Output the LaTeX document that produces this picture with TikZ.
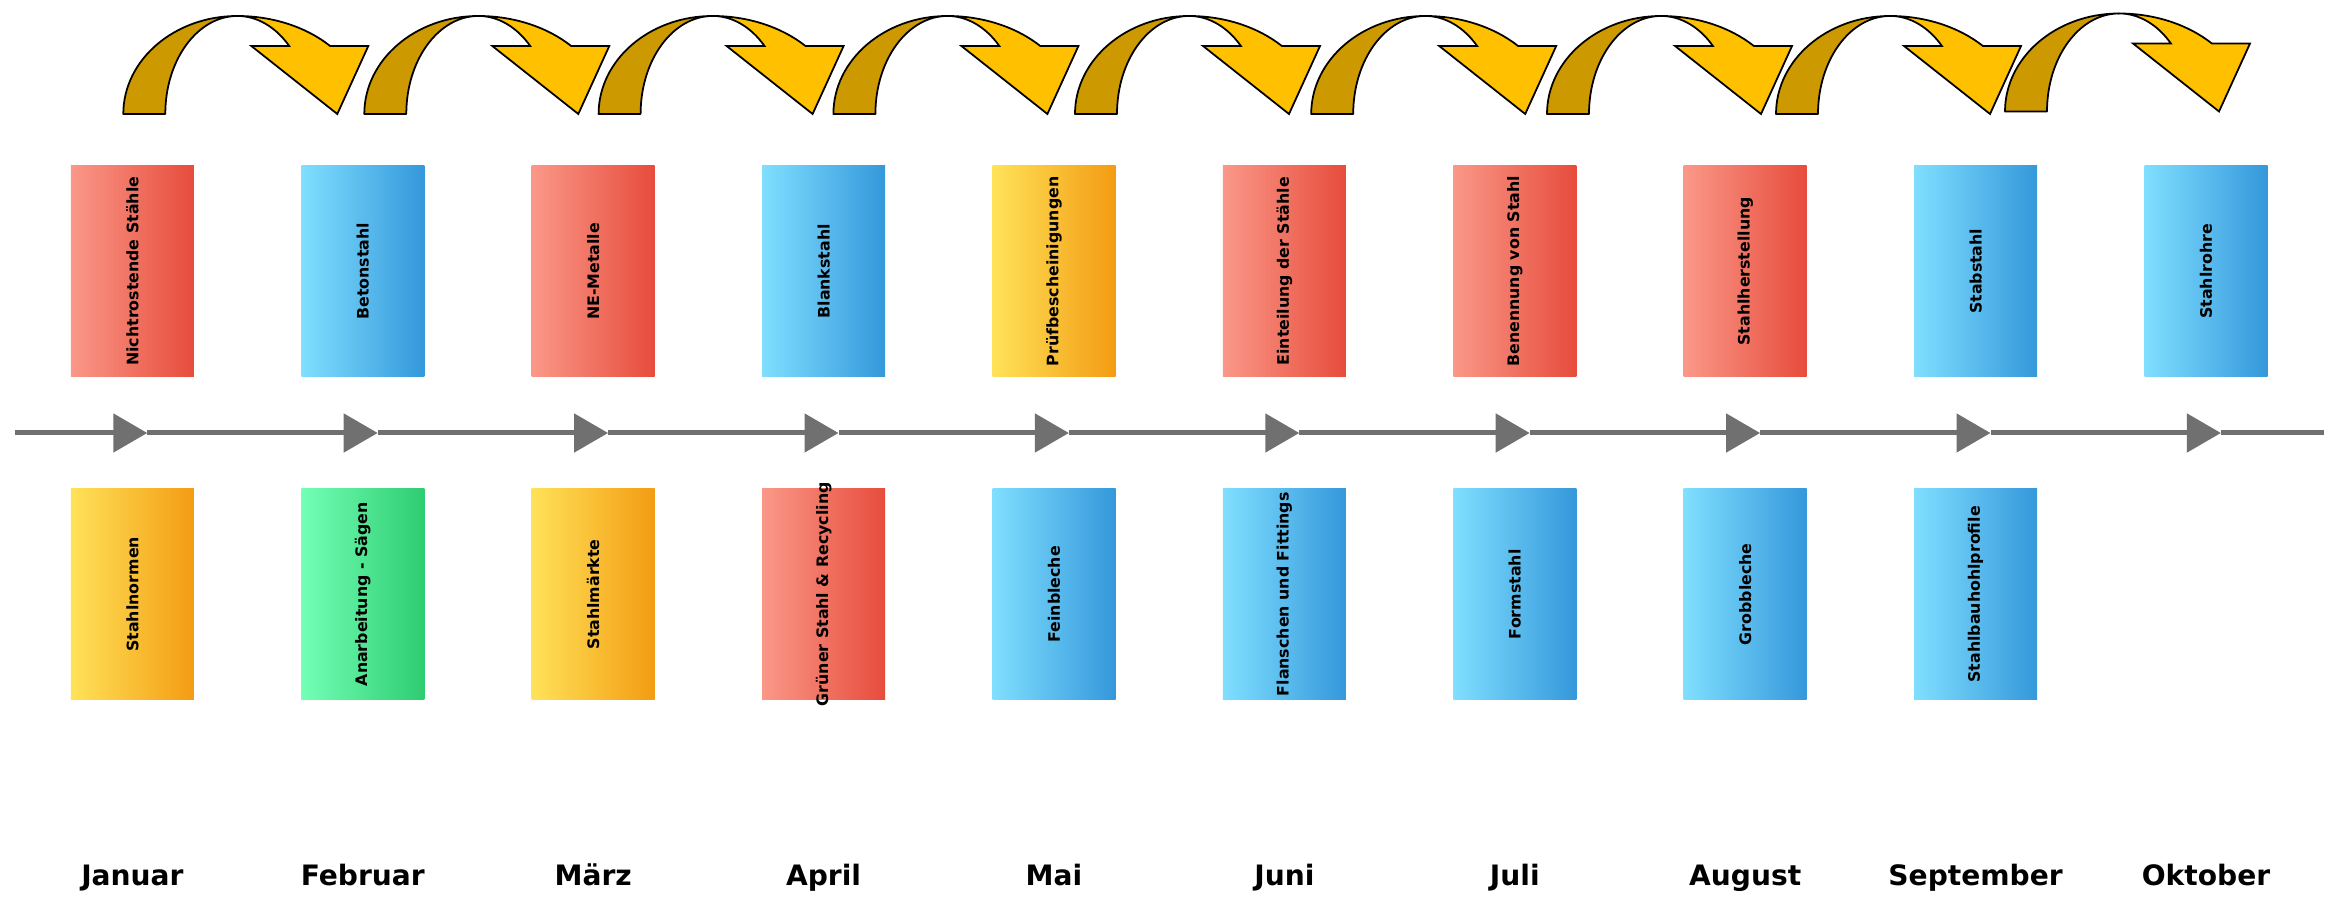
\documentclass[tikz,border=0pt]{standalone}
\usepackage{fontspec}
\setmainfont{DejaVu Sans}
\usetikzlibrary{arrows.meta}

\definecolor{redL}{RGB}{250,152,136}
\definecolor{redR}{RGB}{231,76,60}
\definecolor{blueL}{RGB}{128,223,255}
\definecolor{blueR}{RGB}{52,152,219}
\definecolor{yellowL}{RGB}{255,226,89}
\definecolor{yellowR}{RGB}{243,156,18}
\definecolor{greenL}{RGB}{115,255,182}
\definecolor{greenR}{RGB}{46,204,113}
\definecolor{lineGray}{RGB}{112,112,112}
\definecolor{arrowDark}{RGB}{204,153,0}
\definecolor{arrowLight}{RGB}{255,192,0}

\newcommand{\boxlabel}[1]{\rotatebox{90}{\makebox[0pt]{#1}}}

\tikzset{
  box/.style={minimum width=2.46cm, minimum height=4.22cm, inner sep=0pt,
    font=\bfseries\fontsize{9}{11}\selectfont},
  redbox/.style={box, left color=redL, right color=redR},
  bluebox/.style={box, left color=blueL, right color=blueR},
  yellowbox/.style={box, left color=yellowL, right color=yellowR},
  greenbox/.style={box, left color=greenL, right color=greenR},
  month/.style={anchor=base, font=\bfseries\fontsize{16}{19}\selectfont},
  timeline/.style={draw=lineGray, line width=0.1cm},
  tri/.style={-{Triangle[length=0.68cm, width=0.76cm]}},
  darkpart/.style={fill=arrowDark, draw=black, line width=1pt, line join=round},
  lightpart/.style={fill=arrowLight, draw=black, line width=1pt, line join=miter},
}

\begin{document}
\begin{tikzpicture}[x=0.02cm, y=0.02cm]
  \useasboundingbox (0,0) rectangle (2331,-901);

  % curved arrows on top
  \foreach \x/\y in {123.3/114, 364.3/114, 598.6/114, 833.4/114, 1075/114,
                     1311.2/114, 1547/114, 1776/114, 2005/111.5} {
    \begin{scope}[shift={(\x,-\y)}]
      \draw[darkpart] (0,0) arc[start angle=180, end angle=90, x radius=114, y radius=98]
        arc[start angle=90, end angle=180, x radius=72, y radius=98] -- cycle;
      \draw[lightpart] (114,98) arc[start angle=90, end angle=43.9, x radius=129, y radius=98]
        -- (245,68) -- (214,0) -- (128,68) -- (165.9,68)
        arc[start angle=43.9, end angle=90, x radius=72, y radius=98] -- cycle;
    \end{scope}
  }

  % top row
  \node[redbox]    (n1) at (132.4,-271.3)  {\boxlabel{Nichtrostende Stähle}};
  \node[bluebox]   (n2) at (362.8,-271.3)  {\boxlabel{Betonstahl}};
  \node[redbox]    (n3) at (593.2,-271.3)  {\boxlabel{NE-Metalle}};
  \node[bluebox]   (n4) at (823.6,-271.3)  {\boxlabel{Blankstahl}};
  \node[yellowbox] (n5) at (1054,-271.3)   {\boxlabel{Prüfbescheinigungen}};
  \node[redbox]    (n6) at (1284.4,-271.3) {\boxlabel{Einteilung der Stähle}};
  \node[redbox]    (n7) at (1514.8,-271.3) {\boxlabel{Benennung von Stahl}};
  \node[redbox]    (n8) at (1745.2,-271.3) {\boxlabel{Stahlherstellung}};
  \node[bluebox]   (n9) at (1975.6,-271.3) {\boxlabel{Stabstahl}};
  \node[bluebox]   (n10) at (2206,-271.3)  {\boxlabel{Stahlrohre}};

  % bottom row
  \node[yellowbox] (s1) at (132.4,-594.3)  {\boxlabel{Stahlnormen}};
  \node[greenbox]  (s2) at (362.8,-594.3)  {\boxlabel{Anarbeitung - Sägen}};
  \node[yellowbox] (s3) at (593.2,-594.3)  {\boxlabel{Stahlmärkte}};
  \node[redbox]    (s4) at (823.6,-594.3)  {\boxlabel{Grüner Stahl \& Recycling}};
  \node[bluebox]   (s5) at (1054,-594.3)   {\boxlabel{Feinbleche}};
  \node[bluebox]   (s6) at (1284.4,-594.3) {\boxlabel{Flanschen und Fittings}};
  \node[bluebox]   (s7) at (1514.8,-594.3) {\boxlabel{Formstahl}};
  \node[bluebox]   (s8) at (1745.2,-594.3) {\boxlabel{Grobbleche}};
  \node[bluebox]   (s9) at (1975.6,-594.3) {\boxlabel{Stahlbauhohlprofile}};

  % timeline
  \coordinate (start) at (15,-433);
  \coordinate (end) at (2324,-433);
  \foreach \i in {0,...,9}
    \coordinate (t\i) at (147.3+230.4*\i,-433);
  \draw[timeline, tri] (start) -- (t0);
  \foreach \i/\j in {0/1,1/2,2/3,3/4,4/5,5/6,6/7,7/8,8/9}
    \draw[timeline, tri] (t\i) -- (t\j);
  \draw[timeline] (t9) -- (end);

  % months
  \node[month] (m1) at (132.4,-885)  {Januar};
  \node[month] (m2) at (362.8,-885)  {Februar};
  \node[month] (m3) at (593.2,-885)  {März};
  \node[month] (m4) at (823.6,-885)  {April};
  \node[month] (m5) at (1054,-885)   {Mai};
  \node[month] (m6) at (1284.4,-885) {Juni};
  \node[month] (m7) at (1514.8,-885) {Juli};
  \node[month] (m8) at (1745.2,-885) {August};
  \node[month] (m9) at (1975.6,-885) {September};
  \node[month] (m10) at (2206,-885)  {Oktober};
\end{tikzpicture}
\end{document}
